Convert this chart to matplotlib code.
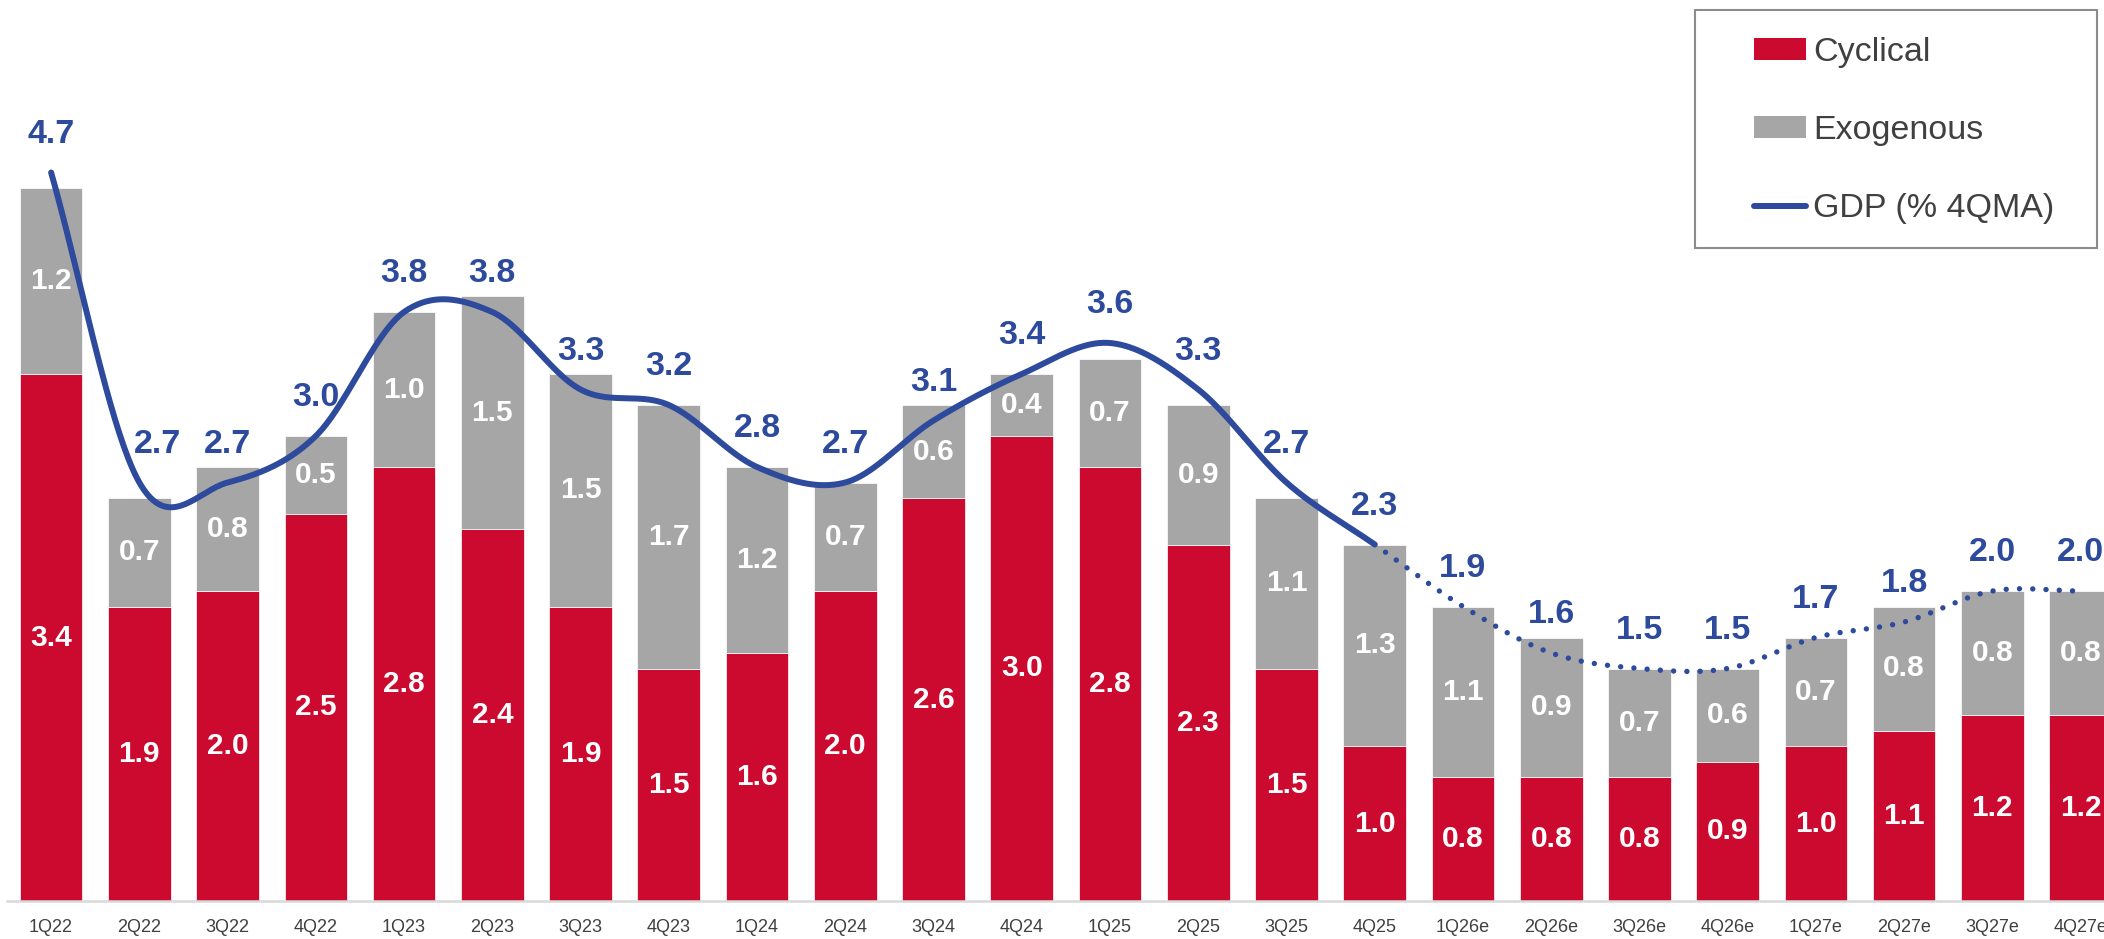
import numpy as np
import matplotlib
matplotlib.use("Agg")
import matplotlib.pyplot as plt
from matplotlib.patches import Patch, Rectangle
from matplotlib.lines import Line2D

plt.rcParams["font.family"] = ["Liberation Sans", "DejaVu Sans"]

# ---- data -------------------------------------------------------------
quarters = ["1Q22", "2Q22", "3Q22", "4Q22", "1Q23", "2Q23", "3Q23", "4Q23",
            "1Q24", "2Q24", "3Q24", "4Q24", "1Q25", "2Q25", "3Q25", "4Q25",
            "1Q26e", "2Q26e", "3Q26e", "4Q26e", "1Q27e", "2Q27e", "3Q27e", "4Q27e"]
cyclical = [3.4, 1.9, 2.0, 2.5, 2.8, 2.4, 1.9, 1.5, 1.6, 2.0, 2.6, 3.0,
            2.8, 2.3, 1.5, 1.0, 0.8, 0.8, 0.8, 0.9, 1.0, 1.1, 1.2, 1.2]
exogenous = [1.2, 0.7, 0.8, 0.5, 1.0, 1.5, 1.5, 1.7, 1.2, 0.7, 0.6, 0.4,
             0.7, 0.9, 1.1, 1.3, 1.1, 0.9, 0.7, 0.6, 0.7, 0.8, 0.8, 0.8]
gdp_4qma = [4.7, 2.7, 2.7, 3.0, 3.8, 3.8, 3.3, 3.2, 2.8, 2.7, 3.1, 3.4,
            3.6, 3.3, 2.7, 2.3, 1.9, 1.6, 1.5, 1.5, 1.7, 1.8, 2.0, 2.0]
last_actual = "4Q25"

# ---- style --------------------------------------------------------------
RED = "#CC0A2F"
GREY = "#A6A6A6"
BLUE = "#2D4A9C"
TEXT = "#404040"

W, H = 2104, 939
fig = plt.figure(figsize=(W / 100, H / 100), dpi=100)
ax = fig.add_axes([7 / W, 38 / H, (W - 7) / W, 901 / H])

x = np.arange(len(quarters))
cyc = np.array(cyclical)
exo = np.array(exogenous)
gdp = np.array(gdp_4qma)

bar_w = 0.71
ax.bar(x, cyc, width=bar_w, color=RED, edgecolor="white", linewidth=0.5, zorder=2)
ax.bar(x, exo, width=bar_w, bottom=cyc, color=GREY, edgecolor="white",
       linewidth=0.5, zorder=2)

for xi, c, e in zip(x, cyc, exo):
    ax.text(xi, c / 2, f"{c:.1f}", ha="center", va="center", color="white",
            fontsize=21.5, fontweight="bold", zorder=4)
    ax.text(xi, c + e / 2, f"{e:.1f}", ha="center", va="center", color="white",
            fontsize=21.5, fontweight="bold", zorder=4)


# smoothed GDP curve (cardinal spline through every quarter)
def smooth_curve(xs, ys, steps=40):
    n = len(ys)
    m = np.empty(n)
    m[1:-1] = (ys[2:] - ys[:-2]) / 2.0
    m[0] = ys[1] - ys[0]
    m[-1] = ys[-1] - ys[-2]
    px, py = [], []
    for i in range(n - 1):
        t = np.linspace(0, 1, steps, endpoint=(i == n - 2))
        h00 = 2 * t**3 - 3 * t**2 + 1
        h10 = t**3 - 2 * t**2 + t
        h01 = -2 * t**3 + 3 * t**2
        h11 = t**3 - t**2
        py.append(h00 * ys[i] + h10 * m[i] + h01 * ys[i + 1] + h11 * m[i + 1])
        px.append(xs[i] + t * (xs[i + 1] - xs[i]))
    return np.concatenate(px), np.concatenate(py)


sx, sy = smooth_curve(x.astype(float), gdp)
split = quarters.index(last_actual)
hist = sx <= split
fcst = sx >= split
ax.plot(sx[hist], sy[hist], color=BLUE, lw=4.3, solid_capstyle="round", zorder=3)
ax.plot(sx[fcst], sy[fcst], color=BLUE, lw=3.9, linestyle=(0, (0.001, 2.45)),
        dash_capstyle="round", zorder=3)

label_nudge = {1: 0.2}
for i, v in enumerate(gdp):
    ax.annotate(f"{v:.1f}", (x[i] + label_nudge.get(i, 0.0), v),
                xytext=(0, 27.4), textcoords="offset points",
                ha="center", va="center", color=BLUE, fontsize=24.5,
                fontweight="bold", zorder=5)

# axes
ax.set_xlim(-0.5, -0.5 + (W - 7) / 88.24)
ax.set_ylim(0, 901 / 155)
ax.set_xticks(x)
ax.set_xticklabels(quarters, fontsize=13, color=TEXT)
ax.tick_params(axis="x", length=0, pad=13)
ax.set_yticks([])
for side in ("top", "left", "right"):
    ax.spines[side].set_visible(False)
ax.spines["bottom"].set_color("#D9D9D9")
ax.spines["bottom"].set_linewidth(1.8)
ax.set_facecolor("none")

# legend
handles = [Patch(facecolor=RED, edgecolor="none"),
           Patch(facecolor=GREY, edgecolor="none"),
           Line2D([0], [0], color=BLUE, lw=4.3, solid_capstyle="round")]
labels = ["Cyclical", "Exogenous", "GDP (% 4QMA)"]
ax.legend(handles, labels, loc="upper left",
          bbox_to_anchor=(1754 / W, 1 - 37 / H), bbox_transform=fig.transFigure,
          frameon=False, borderpad=0, borderaxespad=0, handlelength=1.53,
          handleheight=0.6, handletextpad=0.2, labelspacing=1.38,
          fontsize=24.5, labelcolor=TEXT)
fig.add_artist(Rectangle((1695 / W, 1 - 248 / H), 402 / W, 238 / H,
                         transform=fig.transFigure, fill=False,
                         edgecolor="#8C8C8C", linewidth=1.5))

fig.savefig("out.png", dpi=100)
